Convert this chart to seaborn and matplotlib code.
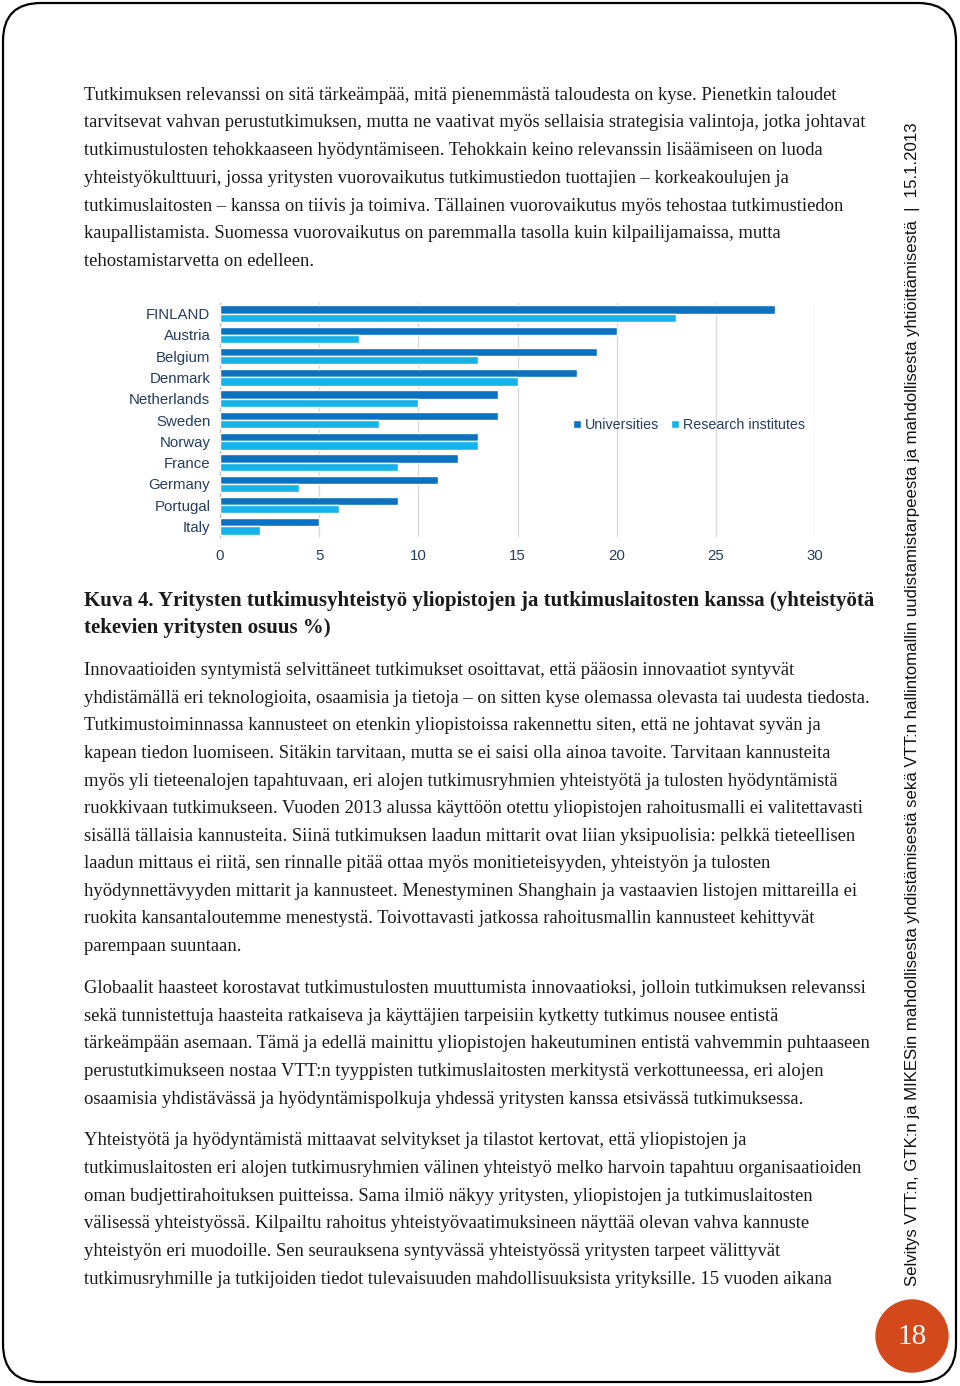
import matplotlib
matplotlib.use("Agg")
import matplotlib.pyplot as plt
import seaborn as sns
import pandas as pd
from matplotlib.patches import FancyBboxPatch, Circle

# ---------------- data ----------------
countries = ["FINLAND", "Austria", "Belgium", "Denmark", "Netherlands", "Sweden",
             "Norway", "France", "Germany", "Portugal", "Italy"]
universities = [28, 20, 19, 18, 14, 14, 13, 12, 11, 9, 5]
research_institutes = [23, 7, 13, 15, 10, 8, 13, 9, 4, 6, 2]
series_names = ["Universities", "Research institutes"]
x_ticks = [0, 5, 10, 15, 20, 25, 30]

para1 = [
    "Tutkimuksen relevanssi on sitä tärkeämpää, mitä pienemmästä taloudesta on kyse. Pienetkin taloudet",
    "tarvitsevat vahvan perustutkimuksen, mutta ne vaativat myös sellaisia strategisia valintoja, jotka johtavat",
    "tutkimustulosten tehokkaaseen hyödyntämiseen. Tehokkain keino relevanssin lisäämiseen on luoda",
    "yhteistyökulttuuri, jossa yritysten vuorovaikutus tutkimustiedon tuottajien – korkeakoulujen ja",
    "tutkimuslaitosten – kanssa on tiivis ja toimiva. Tällainen vuorovaikutus myös tehostaa tutkimustiedon",
    "kaupallistamista. Suomessa vuorovaikutus on paremmalla tasolla kuin kilpailijamaissa, mutta",
    "tehostamistarvetta on edelleen.",
]
caption = [
    "Kuva 4. Yritysten tutkimusyhteistyö yliopistojen ja tutkimuslaitosten kanssa (yhteistyötä",
    "tekevien yritysten osuus %)",
]
para2 = [
    "Innovaatioiden syntymistä selvittäneet tutkimukset osoittavat, että pääosin innovaatiot syntyvät",
    "yhdistämällä eri teknologioita, osaamisia ja tietoja – on sitten kyse olemassa olevasta tai uudesta tiedosta.",
    "Tutkimustoiminnassa kannusteet on etenkin yliopistoissa rakennettu siten, että ne johtavat syvän ja",
    "kapean tiedon luomiseen. Sitäkin tarvitaan, mutta se ei saisi olla ainoa tavoite. Tarvitaan kannusteita",
    "myös yli tieteenalojen tapahtuvaan, eri alojen tutkimusryhmien yhteistyötä ja tulosten hyödyntämistä",
    "ruokkivaan tutkimukseen. Vuoden 2013 alussa käyttöön otettu yliopistojen rahoitusmalli ei valitettavasti",
    "sisällä tällaisia kannusteita. Siinä tutkimuksen laadun mittarit ovat liian yksipuolisia: pelkkä tieteellisen",
    "laadun mittaus ei riitä, sen rinnalle pitää ottaa myös monitieteisyyden, yhteistyön ja tulosten",
    "hyödynnettävyyden mittarit ja kannusteet. Menestyminen Shanghain ja vastaavien listojen mittareilla ei",
    "ruokita kansantaloutemme menestystä. Toivottavasti jatkossa rahoitusmallin kannusteet kehittyvät",
    "parempaan suuntaan.",
]
para3 = [
    "Globaalit haasteet korostavat tutkimustulosten muuttumista innovaatioksi, jolloin tutkimuksen relevanssi",
    "sekä tunnistettuja haasteita ratkaiseva ja käyttäjien tarpeisiin kytketty tutkimus nousee entistä",
    "tärkeämpään asemaan. Tämä ja edellä mainittu yliopistojen hakeutuminen entistä vahvemmin puhtaaseen",
    "perustutkimukseen nostaa VTT:n tyyppisten tutkimuslaitosten merkitystä verkottuneessa, eri alojen",
    "osaamisia yhdistävässä ja hyödyntämispolkuja yhdessä yritysten kanssa etsivässä tutkimuksessa.",
]
para4 = [
    "Yhteistyötä ja hyödyntämistä mittaavat selvitykset ja tilastot kertovat, että yliopistojen ja",
    "tutkimuslaitosten eri alojen tutkimusryhmien välinen yhteistyö melko harvoin tapahtuu organisaatioiden",
    "oman budjettirahoituksen puitteissa. Sama ilmiö näkyy yritysten, yliopistojen ja tutkimuslaitosten",
    "välisessä yhteistyössä. Kilpailtu rahoitus yhteistyövaatimuksineen näyttää olevan vahva kannuste",
    "yhteistyön eri muodoille. Sen seurauksena syntyvässä yhteistyössä yritysten tarpeet välittyvät",
    "tutkimusryhmille ja tutkijoiden tiedot tulevaisuuden mahdollisuuksista yrityksille. 15 vuoden aikana",
]
sidebar = ("Selvitys VTT:n, GTK:n ja MIKESin mahdollisesta yhdistämisestä sekä VTT:n hallintomallin "
           "uudistamistarpeesta ja mahdollisesta yhtiöittämisestä  |  15.1.2013")
page_number = "18"

# ---------------- styling ----------------
sns.set_theme(style="white")
plt.rcParams["font.family"] = ["Liberation Sans", "DejaVu Sans"]

DARK = "#0B72C2"
LIGHT = "#14B3EA"
LABEL = "#243F60"
TEXT = "#1a1a1a"
SERIF = ["Liberation Serif", "DejaVu Serif"]

fig = plt.figure(figsize=(9.6, 13.86), dpi=100)
fig.patch.set_facecolor("white")

page = fig.add_axes([0, 0, 1, 1])
page.set_xlim(0, 960)
page.set_ylim(1386, 0)
page.axis("off")
page.set_zorder(0)

renderer = fig.canvas.get_renderer()


def fit_size(text, family, weight, target_px, base=12.0, rotation=0):
    t = page.text(0, 0, text, fontsize=base, family=family, weight=weight, rotation=rotation)
    bb = t.get_window_extent(renderer)
    w = bb.height if rotation else bb.width
    t.remove()
    return base * target_px / w


# page border
border = FancyBboxPatch((3, 3), 953, 1379, boxstyle="round,pad=0,rounding_size=38",
                        fc="none", ec="black", lw=1.6, zorder=1)
page.add_patch(border)

# body text
body_size = fit_size(para2[1], SERIF, "normal", 786)
cap_size = fit_size(caption[0], SERIF, "bold", 785)


def put_lines(lines, ys, size, weight="normal"):
    for line, y in zip(lines, ys):
        page.text(84, y + 6, line, fontsize=size, family=SERIF, weight=weight,
                  color=TEXT, va="baseline", ha="left")


put_lines(para1, [94, 121, 149, 177, 205, 232, 260], body_size)
put_lines(caption, [600, 627], cap_size, weight="bold")
put_lines(para2, [669, 697, 724, 752, 780, 807, 835, 862, 890, 917, 945], body_size)
put_lines(para3, [987, 1015, 1042, 1070, 1098], body_size)
put_lines(para4, [1139, 1167, 1195, 1222, 1250, 1278], body_size)

# sidebar
side_size = fit_size(sidebar, ["Liberation Sans"], "normal", 1158, rotation=90)
page.text(912, 704, sidebar, rotation=90, fontsize=side_size, family=["Liberation Sans"],
          color="#111111", ha="center", va="center")

# page number
page.add_patch(Circle((912, 1336), 36, color="#D4491C", zorder=2))
page.text(912, 1337, page_number, fontsize=21, family=SERIF, color="white",
          ha="center", va="center", zorder=3)

# ---------------- chart ----------------
ax = fig.add_axes([220 / 960, 1 - 537 / 1386, 595 / 960, 234 / 1386])
ax.set_zorder(2)

df = pd.DataFrame({
    "country": countries * 2,
    "value": universities + research_institutes,
    "series": [series_names[0]] * len(countries) + [series_names[1]] * len(countries),
})
sns.barplot(data=df, x="value", y="country", hue="series", orient="h",
            palette=[DARK, LIGHT], saturation=1, width=0.78, ax=ax, zorder=3)

ax.set_xlim(0, 30)
ax.set_ylim(len(countries) - 0.5, -0.5)
ax.set_xticks(x_ticks)
ax.set_xticklabels([str(v) for v in x_ticks])
ax.set_xlabel("")
ax.set_ylabel("")
ax.grid(axis="x", color="#D9D9D9", lw=1, zorder=0)
ax.grid(axis="y", visible=False)
ax.set_axisbelow(True)
for s in ["top", "right", "bottom"]:
    ax.spines[s].set_visible(False)
ax.spines["left"].set_color("#BFBFBF")
ax.spines["left"].set_linewidth(1)
ax.tick_params(axis="x", length=0, pad=9, labelsize=10.8, labelcolor=LABEL)
ax.tick_params(axis="y", length=0, pad=7, labelsize=10.8, labelcolor=LABEL)
ax.set_yticks([i + 0.5 for i in range(-1, len(countries))], minor=True)
ax.tick_params(axis="y", which="minor", length=4, color="#BFBFBF", direction="out")
ax.patch.set_alpha(0)

handles, labels = ax.get_legend_handles_labels()
ax.legend(handles, labels, loc="center", bbox_to_anchor=(689 / 960, 1 - 425 / 1386),
          bbox_transform=fig.transFigure, ncol=2, frameon=False,
          handlelength=0.55, handleheight=0.55, handletextpad=0.25, columnspacing=0.85,
          fontsize=10.3, labelcolor=LABEL)

fig.savefig("out.png", dpi=100, facecolor="white")
